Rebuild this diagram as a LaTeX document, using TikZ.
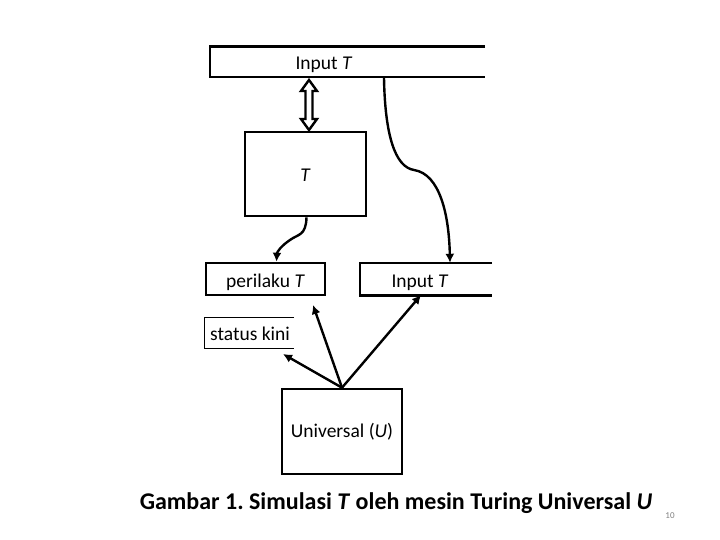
\documentclass[tikz,border=0pt]{standalone}
\usepackage{fontspec}
\setmainfont{Carlito}
\usetikzlibrary{arrows.meta}
\frenchspacing

\tikzset{
  lbl/.style={inner sep=0pt, anchor=base, font=\fontsize{19.5}{21}\selectfont},
  box/.style={draw, line width=2.6pt, inner sep=0pt, text height=16pt, text depth=0pt, font=\fontsize{19.5}{21}\selectfont},
  tape/.style={inner sep=0pt},
  arr/.style={line width=2.4pt, -{Latex[length=9pt,width=9pt]}},
}

\begin{document}
\begin{tikzpicture}[x=1pt,y=-1pt]
    \useasboundingbox (0,0) rectangle (720,540);
    % the tapes, open to the right
    \node[tape, minimum width=275pt, minimum height=30pt] (tapetop) at (347.5,62) {};
    \draw[line width=2.6pt](tapetop.north east)--(tapetop.north west)--(tapetop.south west)--(tapetop.south east);
    \node[lbl] (tapetoptxt) at (324,69.5) {Input \textit{T}};
    \node[tape, minimum width=132pt, minimum height=32pt] (tapein) at (426,279) {};
    \draw[line width=2.6pt](tapein.north east)--(tapein.north west)--(tapein.south west)--(tapein.south east);
    \node[lbl] (tapeintxt) at (420,287) {Input \textit{T}};
    \node[tape, minimum width=89pt, minimum height=30pt] (status) at (249.5,333) {};
    \draw[line width=0.9pt](status.north east)--(status.north west)--(status.south west)--(status.south east);
    \node[lbl] (statustxt) at (250,340) {status kini};
    % the boxes
    \node[box, minimum width=121pt, minimum height=84pt] (mT) at (305.5,174) {\textit{T}};
    \node[box, minimum width=119pt, minimum height=32pt] (perilaku) at (265.5,279) {perilaku \textit{T}};
    \node[box, minimum width=120pt, minimum height=85pt, text height=11.6pt] (U) at (342,431.5) {Universal (\textit{U})};
    % double arrow between the tape and T
    \draw[line width=2.4pt, line join=miter](309,80)--(317,91)--(312.5,91)--(312.5,119)--(317,119)--(309,130)
        --(301,119)--(305.5,119)--(305.5,91)--(301,91)--cycle;
    % curved arrows
    \coordinate (tapeout) at (384,78);
    \draw[arr](tapeout) .. controls (385,135) and (395,167) .. (414,170) .. controls (440,174) and (449,215) .. ([xshift=24pt]tapein.north);
    \draw[arr]([xshift=1pt]mT.south) .. controls (306,236) and (298,234) .. (290,240) .. controls (281,246) and (277,252) .. ([xshift=11pt]perilaku.north);
    % arrows from U
    \coordinate (hitP) at (313,305);
    \coordinate (hitI) at (421,295);
    \coordinate (hitS) at (283,354);
    \draw[arr](U.north)--(hitP);
    \draw[arr](U.north)--(hitI);
    \draw[arr](U.north)--(hitS);
    % caption
    \node[inner sep=0pt, anchor=base, font=\bfseries\fontsize{24}{27}\selectfont] (caption) at (396,509.5) {Gambar 1. Simulasi \textit{T} oleh mesin Turing Universal \textit{U}};
    \node[inner sep=0pt, anchor=base, text=gray, font=\fontsize{9}{10}\selectfont] (pnum) at (670,518) {10};
\end{tikzpicture}
\end{document}
